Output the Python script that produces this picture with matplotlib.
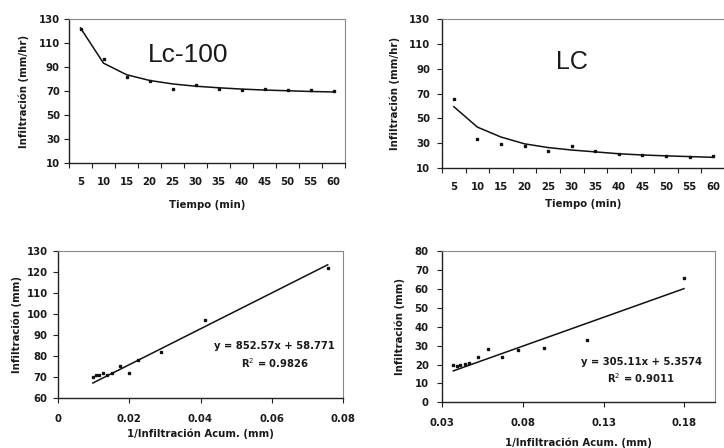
import matplotlib
matplotlib.use("Agg")
import matplotlib.pyplot as plt
import numpy as np

plt.rcParams['font.family'] = ['DejaVu Sans']

# ---- data ----
tiempo = [5, 10, 15, 20, 25, 30, 35, 40, 45, 50, 55, 60]
lc100_inf = [122, 97, 82, 78, 72, 75, 72, 71, 72, 71, 71, 70]
lc100_curve = [122.5, 93.2, 83.6, 78.8, 75.9, 74.0, 72.7, 71.6, 70.8, 70.2, 69.6, 69.2]
lc_inf = [66, 33, 29, 27.5, 24, 28, 24, 21, 20.5, 19.5, 19, 19.5]
lc_curve = [59.5, 43, 35, 29.5, 26.5, 24.5, 23, 21.5, 20.5, 19.8, 19.2, 18.6]

inv_acum_lc100 = [0.0757, 0.0412, 0.0289, 0.0224, 0.0198, 0.0175, 0.0152, 0.0137, 0.0125, 0.0115, 0.0107, 0.0098]
inv_acum_lc = [0.1798, 0.120, 0.093, 0.0771, 0.0672, 0.0585, 0.0523, 0.047, 0.044, 0.041, 0.039, 0.037]

fit_lc100 = (852.57, 58.771)
fit_lc = (305.11, 5.3574)

W, H = 724, 448
fig = plt.figure(figsize=(W / 100, H / 100), dpi=100)

TXT = '#1a1a1a'
TFS = 7.3
lab_font = dict(fontsize=7.3, fontweight='bold', color=TXT)


def ax_px(x0, y0, x1, y1):
    return fig.add_axes([x0 / W, 1 - y1 / H, (x1 - x0) / W, (y1 - y0) / H])


def style(ax, ypad, right=True):
    for s in ['left', 'bottom']:
        ax.spines[s].set_color('#222222')
        ax.spines[s].set_linewidth(1.0)
    for s in ['top', 'right']:
        ax.spines[s].set_color('#888888')
        ax.spines[s].set_linewidth(0.8)
    if not right:
        ax.spines['right'].set_visible(False)
    ax.tick_params(direction='out', length=3.5, width=0.8, color='#222222')
    ax.tick_params(axis='y', pad=ypad)
    for lbl in ax.get_xticklabels() + ax.get_yticklabels():
        lbl.set_fontweight('bold')
        lbl.set_fontsize(TFS)
        lbl.set_color(TXT)


def place_labels(ax, xl, yl, lx, ly):
    ax.set_xlabel(xl, **lab_font)
    ax.set_ylabel(yl, **lab_font)
    ax.xaxis.label.set_va('center')
    ax.yaxis.label.set_va('center')
    ax.xaxis.set_label_coords(0.5, lx)
    ax.yaxis.set_label_coords(ly, 0.5)


def top_chart(ax, vals, curve, title, tx, ty, tsize, lx, ly, ypad, right=True):
    cats = np.arange(1, len(tiempo) + 1)
    ax.plot(cats, curve, color='#111111', lw=1.1, zorder=2)
    ax.plot(cats, vals, ls='none', marker='s', ms=2.0, color='#111111', zorder=3)
    ax.set_xlim(0.5, len(tiempo) + 0.5)
    ax.set_ylim(10, 130)
    ax.set_yticks(range(10, 131, 20))
    ax.set_xticks(cats)
    ax.set_xticklabels([str(t) for t in tiempo])
    ax.set_xticks(np.arange(0.5, len(tiempo) + 1, 1.0), minor=True)
    style(ax, ypad, right)
    ax.tick_params(axis='x', which='major', length=0, pad=10)
    ax.tick_params(axis='x', which='minor', direction='out', length=3.5, width=0.8, color='#222222')
    place_labels(ax, 'Tiempo (min)', 'Infiltración (mm/hr)', lx, ly)
    ax.text(tx, ty, title, transform=ax.transAxes, fontsize=tsize, color=TXT,
            family='Liberation Sans', ha='center', va='center')


ax1 = ax_px(69, 19, 345, 163)
top_chart(ax1, lc100_inf, lc100_curve, 'Lc-100', 0.43, 0.75, 19, -0.292, -0.165, 3)

ax2 = ax_px(442, 19.3, 725, 168)
top_chart(ax2, lc_inf, lc_curve, 'LC', 0.46, 0.71, 18, -0.24, -0.166, 5, right=False)


def bottom_chart(ax, xs, ys, fit, xlim, ylim, yticks, xticks, xticklabels, eq, r2, ex, ey,
                 lx, ly, ypad, right=True):
    m, b = fit
    xx = np.array([min(xs), max(xs)])
    ax.plot(xx, m * xx + b, color='#111111', lw=1.1, zorder=2)
    ax.plot(xs, ys, ls='none', marker='s', ms=2.0, color='#111111', zorder=3)
    ax.set_xlim(*xlim)
    ax.set_ylim(*ylim)
    ax.set_yticks(yticks)
    ax.set_xticks(xticks)
    ax.set_xticklabels(xticklabels)
    style(ax, ypad, right)
    ax.tick_params(axis='x', pad=8)
    place_labels(ax, '1/Infiltración Acum. (mm)', 'Infiltración (mm)', lx, ly)
    ax.text(ex, ey, eq, transform=ax.transAxes, fontsize=7.2, fontweight='bold',
            color=TXT, ha='center', va='center')
    ax.text(ex, ey - 0.11, r2, transform=ax.transAxes, fontsize=7.2, fontweight='bold',
            color=TXT, ha='center', va='center')


ax3 = ax_px(58, 250.7, 343, 398)
bottom_chart(ax3, inv_acum_lc100, lc100_inf, fit_lc100, (0, 0.08), (60, 130),
             range(60, 131, 10), [0, 0.02, 0.04, 0.06, 0.08],
             ['0', '0.02', '0.04', '0.06', '0.08'],
             'y = 852.57x + 58.771', 'R$^2$ = 0.9826', 0.76, 0.35, -0.244, -0.145, 4)

ax4 = ax_px(442, 251.3, 715, 402.3)
bottom_chart(ax4, inv_acum_lc, lc_inf, fit_lc, (0.03, 0.199), (0, 80),
             range(0, 81, 10), [0.03, 0.08, 0.13, 0.18],
             ['0.03', '0.08', '0.13', '0.18'],
             'y = 305.11x + 5.3574', 'R$^2$ = 0.9011', 0.73, 0.27, -0.27, -0.154, 6)

fig.savefig('out.png', dpi=100, facecolor='white')
